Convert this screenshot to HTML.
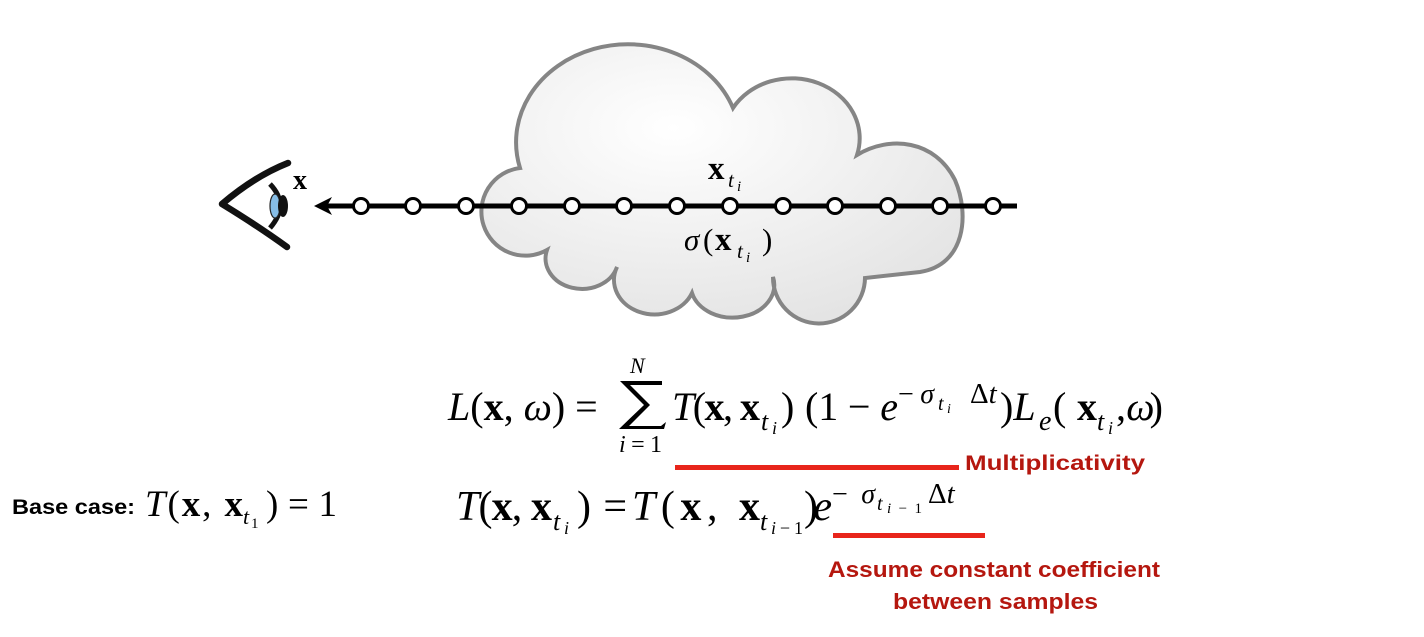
<!DOCTYPE html>
<html><head><meta charset="utf-8"><style>
html,body{margin:0;padding:0;background:#fff;}
svg{display:block}
text{font-family:"Liberation Serif","DejaVu Serif",serif;}
.i{font-style:italic}
.b{font-weight:bold}
.red{font-family:"Liberation Sans",sans-serif;font-weight:bold;fill:#b5170f;}
</style></head><body>
<svg width="1424" height="637" viewBox="0 0 1424 637" xmlns="http://www.w3.org/2000/svg">
<defs>
<radialGradient id="g" cx="0.4" cy="0.3" r="0.8">
<stop offset="0" stop-color="#ffffff"/><stop offset="1" stop-color="#e2e2e2"/>
</radialGradient>
</defs>
<path d="M520 168 A112 98 0 0 1 733 108 A68 60 0 0 1 857 155 C890 135 935 140 955 180 C970 215 965 265 920 272 L865 278 A46 46 0 0 1 773 277 A41 32 0 0 1 692 293 A40 34 0 0 1 617 267 A36 30 0 0 1 547 250 A44 44 0 1 1 520 168 Z" fill="url(#g)" stroke="#858585" stroke-width="4"/>
<!-- eye -->
<path d="M288 163 Q255 176 222 204 Q258 226 287 247" fill="none" stroke="#111" stroke-width="6.5" stroke-linecap="round" stroke-linejoin="round"/>
<path d="M270 184 Q290 205 270 228" fill="none" stroke="#111" stroke-width="5"/>
<ellipse cx="275" cy="206" rx="5" ry="12" fill="#86bde6" stroke="#222" stroke-width="1.2"/>
<ellipse cx="283" cy="206" rx="5" ry="11" fill="#111"/>
<text x="293" y="189" class="b" font-size="28">x</text>
<!-- ray -->
<line x1="326" y1="206" x2="1017" y2="206" stroke="#000" stroke-width="5"/>
<path d="M314 206 L332 197 L327 206 L332 215 Z" fill="#000"/>
<g fill="#fff" stroke="#000" stroke-width="3">
<circle cx="361" cy="206" r="7.5"/><circle cx="413" cy="206" r="7.5"/><circle cx="466" cy="206" r="7.5"/><circle cx="519" cy="206" r="7.5"/><circle cx="572" cy="206" r="7.5"/><circle cx="624" cy="206" r="7.5"/><circle cx="677" cy="206" r="7.5"/><circle cx="730" cy="206" r="7.5"/><circle cx="783" cy="206" r="7.5"/><circle cx="835" cy="206" r="7.5"/><circle cx="888" cy="206" r="7.5"/><circle cx="940" cy="206" r="7.5"/><circle cx="993" cy="206" r="7.5"/>
</g>
<text x="708" y="179" class="b" font-size="33">x</text>
<text x="728" y="187" class="i" font-size="21">t</text>
<text x="737" y="191" class="i" font-size="15">i</text>
<text x="684" y="250" font-size="31" class="i">σ</text>
<text x="703" y="250" font-size="31">(</text>
<text x="715" y="250" font-size="33" class="b">x</text>
<text x="737" y="258" class="i" font-size="21">t</text>
<text x="746" y="262" class="i" font-size="15">i</text>
<text x="762" y="250" font-size="31">)</text>

<!-- equation 1, baseline 420 -->
<g font-size="40">
<text x="448" y="420"><tspan class="i">L</tspan>(<tspan class="b">x</tspan>, <tspan class="i">ω</tspan>) =</text>
<text x="672" y="420" textLength="88"><tspan class="i">T</tspan>(<tspan class="b">x</tspan>, <tspan class="b">x</tspan></text>
<text x="781" y="420">)</text>
<text x="805" y="420" textLength="93"><tspan>(1 − </tspan><tspan class="i">e</tspan></text>
<text x="1000" y="420">)<tspan class="i">L</tspan></text>
<text x="1053" y="420" textLength="44">(<tspan class="b">x</tspan></text>
<text x="1116" y="420" textLength="47">, <tspan class="i">ω</tspan>)</text>
</g>
<text x="761" y="430" class="i" font-size="26">t</text>
<text x="772" y="434" class="i" font-size="18">i</text>
<text x="1039" y="430" class="i" font-size="28">e</text>
<text x="1097" y="430" class="i" font-size="26">t</text>
<text x="1108" y="434" class="i" font-size="18">i</text>
<text x="898" y="403" font-size="28" textLength="36">−<tspan class="i">σ</tspan></text>
<text x="938" y="410" class="i" font-size="20">t</text>
<text x="947" y="413" class="i" font-size="14">i</text>
<text x="970" y="403" font-size="29">Δ<tspan class="i">t</tspan></text>
<!-- sum -->
<path d="M662 385 L662 381 L620 381 L644 405 L619 429 L664 429 L666 422 L661 426 L629 426 L650 405 L630 385 Z" fill="#000"/>
<text x="630" y="373" class="i" font-size="22">N</text>
<text x="619" y="452" font-size="24" textLength="43"><tspan class="i">i</tspan>=1</text>

<rect x="675" y="465" width="284" height="5" fill="#e8251b"/>
<text x="965" y="470" class="red" font-size="21" textLength="180" lengthAdjust="spacingAndGlyphs">Multiplicativity</text>

<!-- equation 2, baseline 520 -->
<g font-size="42">
<text x="456" y="520" textLength="96"><tspan class="i">T</tspan>(<tspan class="b">x</tspan>, <tspan class="b">x</tspan></text>
<text x="577" y="520" textLength="50">) =</text>
<text x="632" y="520" textLength="128"><tspan class="i">T</tspan>(<tspan class="b">x</tspan>, <tspan class="b">x</tspan></text>
<text x="804" y="520" textLength="28">)<tspan class="i">e</tspan></text>
</g>
<text x="553" y="530" class="i" font-size="26">t</text>
<text x="564" y="534" class="i" font-size="18">i</text>
<text x="760" y="530" class="i" font-size="26">t</text>
<text x="771" y="534" font-size="18" textLength="32"><tspan class="i">i</tspan>−1</text>
<text x="832" y="503" font-size="28" textLength="43">−<tspan class="i">σ</tspan></text>
<text x="877" y="510" class="i" font-size="20">t</text>
<text x="887" y="513" font-size="15" textLength="35"><tspan class="i">i</tspan>−1</text>
<text x="928" y="503" font-size="29">Δ<tspan class="i">t</tspan></text>

<rect x="833" y="533" width="152" height="5" fill="#e8251b"/>
<text x="828" y="577" class="red" font-size="22" textLength="332" lengthAdjust="spacingAndGlyphs">Assume constant coefficient</text>
<text x="893" y="609" class="red" font-size="22" textLength="205" lengthAdjust="spacingAndGlyphs">between samples</text>

<!-- base case -->
<text x="12" y="514" style="font-family:'Liberation Sans',sans-serif" font-weight="bold" font-size="21" textLength="123" lengthAdjust="spacingAndGlyphs">Base case:</text>
<text x="145" y="516" font-size="37" textLength="98"><tspan class="i">T</tspan>(<tspan class="b">x</tspan>, <tspan class="b">x</tspan></text>
<text x="243" y="524" class="i" font-size="22">t</text>
<text x="251" y="528" font-size="15">1</text>
<text x="266" y="516" font-size="37" textLength="71">) = 1</text>
</svg>
</body></html>
